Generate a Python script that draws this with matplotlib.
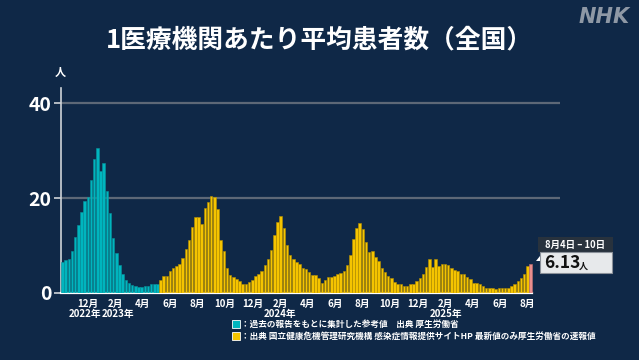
import datetime as dt
import matplotlib
matplotlib.use("Agg")
import matplotlib.pyplot as plt
import matplotlib.patches as mpatches
import numpy as np

plt.rcParams['font.family'] = ['Noto Sans CJK JP', 'DejaVu Sans']

# weekly values, first week starts 2022-10-03
start = dt.date(2022, 10, 3)
past_vals = [6.5, 6.9, 7.2, 8.8, 11.9, 14.3, 17.1, 19.4, 20.2, 23.9, 28.3, 30.5,
             25.8, 27.3, 21.6, 16.9, 11.5, 8.4, 6.0, 4.1, 2.7, 2.2, 1.7, 1.4,
             1.3, 1.2, 1.4, 1.4, 1.8, 1.8, 1.8]
niid_vals = [2.7, 3.6, 3.6, 4.6, 5.2, 5.7, 6.2, 7.3, 9.2, 11.2, 14.0, 16.1,
             16.0, 14.5, 18.0, 19.2, 20.5, 20.3, 17.7, 11.1, 8.9, 5.3, 3.8, 3.3,
             2.9, 2.5, 2.0, 2.0, 2.4, 2.8, 3.6, 4.1, 4.6, 5.8, 7.1, 9.0,
             12.3, 15.0, 16.2, 13.8, 10.2, 8.0, 7.1, 6.6, 6.2, 5.3, 5.1, 4.4,
             3.7, 3.7, 3.2, 2.2, 2.8, 3.3,
             3.4, 3.5, 4.0, 4.2, 4.7, 5.8, 8.1, 11.3, 13.8, 14.7, 13.4, 10.7,
             8.7, 8.9, 7.5, 6.7, 5.3, 4.4, 3.6, 3.1, 2.4, 1.9, 1.8, 1.5,
             1.5, 2.0, 1.8, 2.5, 3.1, 3.9, 5.5, 7.1, 5.4, 7.1, 5.6, 6.2,
             6.2, 5.8, 5.2, 4.9, 4.6, 4.1, 3.9, 3.3, 2.9, 2.2, 2.2, 1.8,
             1.4, 1.1, 1.1, 1.1, 0.8, 1.0, 1.0, 1.0, 1.0, 1.4, 2.0, 2.5,
             3.2, 4.1, 5.6]
latest_val = 6.13

month_ticks = [(2022, 12), (2023, 2), (2023, 4), (2023, 6), (2023, 8), (2023, 10),
               (2023, 12), (2024, 2), (2024, 4), (2024, 6), (2024, 8), (2024, 10),
               (2024, 12), (2025, 2), (2025, 4), (2025, 6), (2025, 8)]
# (anchor month, label, horizontal alignment)
year_labels = [((2023, 1), '2022年', 'right'), ((2023, 1), '2023年', 'left'),
               ((2024, 2), '2024年', 'center'), ((2025, 2), '2025年', 'center')]

bg = '#0f2847'
cyan = '#00b5be'
yellow = '#f5c400'
pink = '#e98d8d'

W, H = 639, 360
fig = plt.figure(figsize=(W / 100, H / 100), dpi=100, facecolor=bg)


def fx(x):
    return x / W


def fy(y):
    return 1 - y / H


ax = fig.add_axes([fx(61), fy(293), fx(560) - fx(61), fy(88) - fy(293)])
ax.set_facecolor(bg)

def day(d):
    return (d - start).days

n_past = len(past_vals)
n_niid = len(niid_vals)
x_past = np.arange(n_past) * 7 + 3.5
x_niid = (np.arange(n_niid) + n_past) * 7 + 3.5
x_last = (n_past + n_niid) * 7 + 3.5

ax.bar(x_past, past_vals, width=5.6, color=cyan, edgecolor='#07939c', linewidth=0.4, zorder=3)
ax.bar(x_niid, niid_vals, width=5.6, color=yellow, edgecolor='#b58f00', linewidth=0.4, zorder=3)
ax.bar([x_last], [latest_val], width=5.6, color=pink, edgecolor='#c07070', linewidth=0.4, zorder=3)

ax.set_xlim(0, 1105)
ax.set_ylim(0, 43.2)

for v in [20, 40]:
    ax.axhline(v, color='#5d6877', lw=1.6, zorder=1)

for s in ['top', 'right']:
    ax.spines[s].set_visible(False)
ax.spines['left'].set_color('#cfd3d8')
ax.spines['left'].set_linewidth(1.2)
ax.spines['bottom'].set_color('white')
ax.spines['bottom'].set_linewidth(1.6)
ax.spines['bottom'].set_bounds(0, x_last + 3.5)

ax.set_yticks([0, 20, 40])
ax.set_yticklabels(['0', '20', '40'], fontsize=14, fontweight='bold', color='white')
ax.tick_params(axis='y', length=5, width=1.2, color='#cfd3d8', pad=2)

tick_pos = [day(dt.date(y, m, 1)) for y, m in month_ticks]
ax.set_xticks(tick_pos)
ax.set_xticklabels([f'{m}月' for y, m in month_ticks], fontsize=7, fontweight='bold', color='white')
ax.tick_params(axis='x', length=0, pad=4)

for (y, m), lab, ha in year_labels:
    ax.text(day(dt.date(y, m, 1)), -3.3, lab, ha=ha, va='top', fontsize=7,
            fontweight='bold', color='white', clip_on=False)

# title, unit, logo
fig.text(fx(319), fy(40), '1医療機関あたり平均患者数（全国）', ha='center', va='center',
         fontsize=18.5, fontweight='bold', color='white')
fig.text(fx(60), fy(72), '人', ha='center', va='center', fontsize=8, fontweight='bold', color='white')
fig.text(fx(630), fy(17), 'NHK', ha='right', va='center', fontsize=15, fontweight='bold',
         fontstyle='italic', color='#8e98a5', family='DejaVu Sans')

# legend
fig.patches.append(mpatches.Rectangle((fx(232), fy(328)), fx(8), 8 / H, transform=fig.transFigure,
                                      facecolor=cyan, edgecolor='white', lw=0.6))
fig.patches.append(mpatches.Rectangle((fx(232), fy(340)), fx(8), 8 / H, transform=fig.transFigure,
                                      facecolor=yellow, edgecolor='white', lw=0.6))
fig.text(fx(241), fy(324), '：過去の報告をもとに集計した参考値　出典 厚生労働省', ha='left', va='center',
         fontsize=6.2, fontweight='bold', color='white')
fig.text(fx(241), fy(336), '：出典 国立健康危機管理研究機構 感染症情報提供サイトHP 最新値のみ厚生労働省の速報値',
         ha='left', va='center', fontsize=6.2, fontweight='bold', color='white')

# callout for the latest week
fig.patches.append(mpatches.Rectangle((fx(538), fy(252)), fx(613) - fx(538), 15 / H,
                                      transform=fig.transFigure, facecolor='#28323d', edgecolor='none'))
fig.patches.append(mpatches.Rectangle((fx(540), fy(273)), fx(612) - fx(540), 21 / H,
                                      transform=fig.transFigure, facecolor='#e7e9eb', edgecolor='#8a9099', lw=0.8))
fig.patches.append(mpatches.Polygon([(fx(536), fy(261)), (fx(540), fy(256)), (fx(540), fy(261))],
                                    closed=True, transform=fig.transFigure, facecolor='white', edgecolor='none'))
fig.text(fx(575), fy(244.5), '8月4日 – 10日', ha='center', va='center', fontsize=6.8,
         fontweight='bold', color='white')
fig.text(fx(544), fy(263), f'{latest_val:.2f}', ha='left', va='center', fontsize=12.5,
         fontweight='bold', color='#111111')
fig.text(fx(579), fy(266), '人', ha='left', va='center', fontsize=6.5, fontweight='bold', color='#111111')

fig.savefig('out.png', dpi=100, facecolor=bg)
